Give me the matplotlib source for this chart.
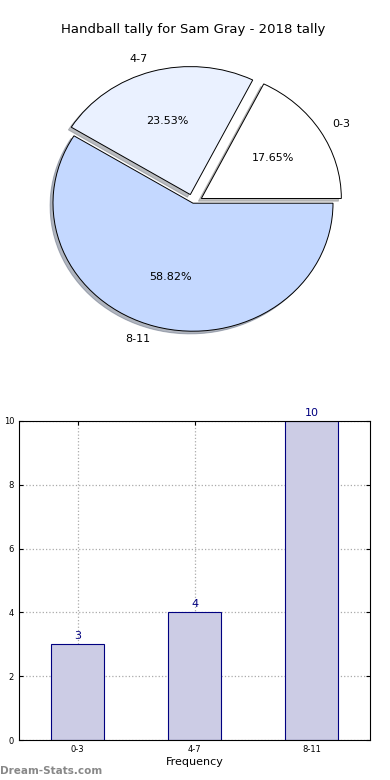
import matplotlib
matplotlib.use("Agg")
import matplotlib.pyplot as plt

categories = ["0-3", "4-7", "8-11"]
counts = [3, 4, 10]
pie_colors = ["#ffffff", "#eaf1ff", "#c4d8ff"]
explode = [0.07, 0.07, 0.0]
title = "Handball tally for Sam Gray - 2018 tally"

fig = plt.figure(figsize=(3.9, 7.8), dpi=100)

# pie on top (slightly squashed, like the original)
ax1 = fig.add_axes([4 / 390, 404 / 780, 378 / 390, 345.6 / 780])
ax1.pie(counts, labels=categories, colors=pie_colors, explode=explode,
        autopct="%1.2f%%", startangle=0, labeldistance=1.1,
        shadow={"ox": -0.015, "oy": -0.015, "shade": 0.5},
        wedgeprops={"edgecolor": "black", "linewidth": 0.7},
        textprops={"fontsize": 8})
ax1.set_aspect("auto")
ax1.set_xlim(-1.35, 1.35)
ax1.set_ylim(-1.35, 1.35)
ax1.axis("off")
fig.text(0.495, 1 - 30 / 780, title, ha="center", va="center", fontsize=9.5)

# bars below
ax2 = fig.add_axes([19 / 390, 40 / 780, 351 / 390, 319 / 780])
x = range(len(categories))
ax2.bar(x, counts, width=0.45, color="#ccccE5", edgecolor="navy",
        linewidth=0.8, zorder=2)
for xi, v in zip(x, counts):
    ax2.text(xi, v + 0.1, str(v), ha="center", va="bottom", color="navy",
             fontsize=8)
ax2.set_xlim(-0.5, 2.5)
ax2.set_ylim(0, 10)
ax2.set_xticks(list(x))
ax2.set_xticklabels(categories)
ax2.set_yticks([0, 2, 4, 6, 8, 10])
ax2.tick_params(labelsize=6, direction="in", top=True, right=True, length=3)
ax2.grid(True, linestyle=":", color="#aaaaaa", linewidth=0.9, zorder=0)
ax2.set_xlabel("Frequency", fontsize=8, labelpad=2)
ax2.set_ylabel("Total Tally", fontsize=6, labelpad=8)

fig.text(0.0, 9 / 780, "Dream-Stats.com", color="#888888", fontsize=7.5,
         fontweight="bold", ha="left", va="center")

fig.savefig("out.png", dpi=100)
